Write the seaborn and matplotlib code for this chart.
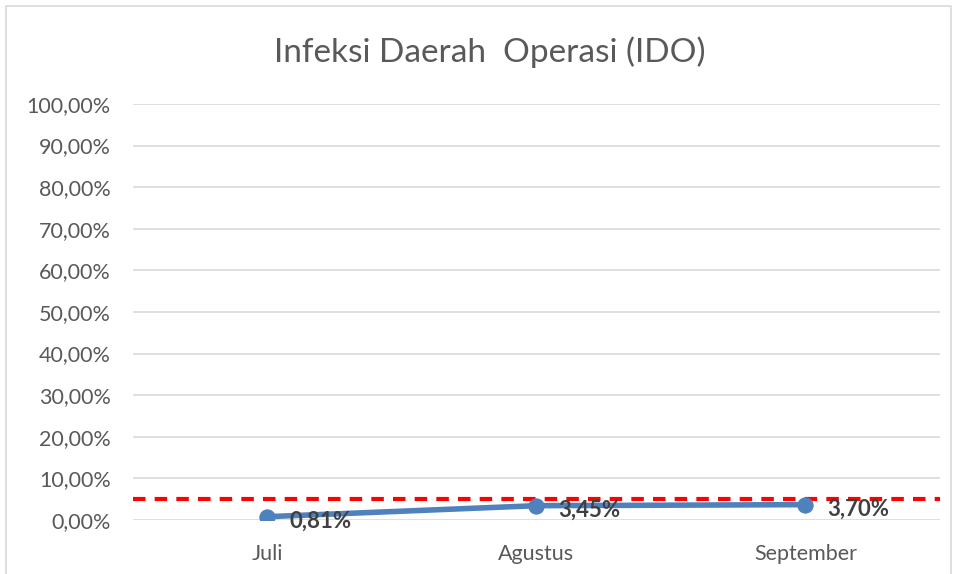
import matplotlib
matplotlib.use("Agg")
import matplotlib.pyplot as plt
import seaborn as sns
import pandas as pd
from matplotlib.patches import Rectangle
from matplotlib.ticker import FuncFormatter

months = ["Juli", "Agustus", "September"]
rates = [0.81, 3.45, 3.70]
target = 5.0
y_ticks = [0, 10, 20, 30, 40, 50, 60, 70, 80, 90, 100]

df = pd.DataFrame({"Bulan": months, "IDO": rates})

sns.set_style("white")
plt.rcParams["font.family"] = ["Lato", "DejaVu Sans"]

fig = plt.figure(figsize=(9.57, 5.74), dpi=100)
ax = fig.add_axes([0.139, 0.094, 0.843, 0.725])

# frame around chart
fig.patches.append(Rectangle((0.006, -0.01), 0.988, 0.999, transform=fig.transFigure,
                             fill=False, edgecolor="#d9d9d9", linewidth=1.2))

for t in y_ticks:
    ax.axhline(t, color="#d9d9d9", linewidth=1.2, zorder=0)

ax.axhline(target, color="#ff0000", linewidth=3, linestyle=(0, (3, 2.2)), zorder=1)

sns.lineplot(data=df, x="Bulan", y="IDO", ax=ax, color="#4f81bd", linewidth=4,
             marker="o", markersize=11, markeredgecolor="#4f81bd", sort=False, zorder=3)

for i, v in enumerate(rates):
    ax.annotate(f"{v:.2f}%".replace(".", ","), (i, v), xytext=(16, -3),
                textcoords="offset points", fontsize=16, fontweight="bold",
                color="#404040", va="center", ha="left", zorder=4)

ax.set_xlim(-0.5, 2.5)
ax.set_ylim(0, 100)
ax.set_yticks(y_ticks)
ax.yaxis.set_major_formatter(FuncFormatter(lambda v, p: f"{v:.2f}%".replace(".", ",")))
ax.tick_params(axis="both", length=0, labelsize=15.5, labelcolor="#595959")
ax.tick_params(axis="x", pad=17)
ax.tick_params(axis="y", pad=16)
ax.set_xlabel("")
ax.set_ylabel("")
for s in ax.spines.values():
    s.set_visible(False)

fig.text(0.512, 1 - 52 / 574, "Infeksi Daerah  Operasi (IDO)", fontsize=24,
         color="#595959", ha="center", va="center")

fig.savefig("out.png", dpi=100)
